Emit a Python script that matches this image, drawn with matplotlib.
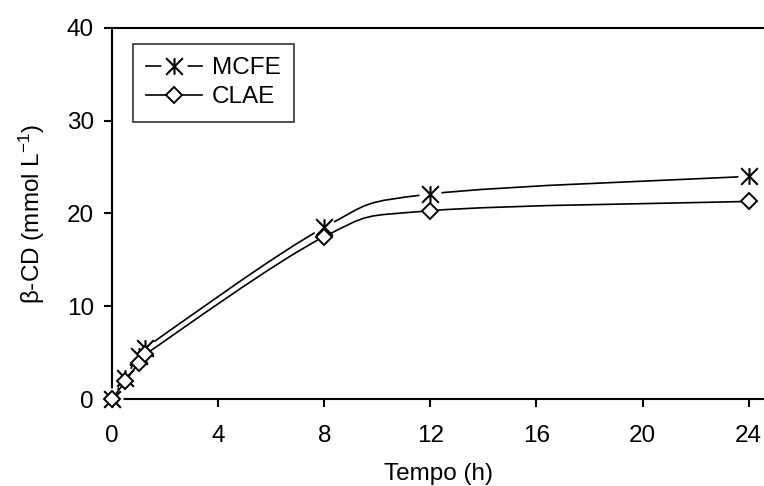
import numpy as np
import matplotlib
matplotlib.use("Agg")
import matplotlib.pyplot as plt
from matplotlib.path import Path
from matplotlib.patches import PathPatch
from matplotlib.lines import Line2D
from matplotlib.legend_handler import HandlerTuple

# ---- data ----
tempo = [0, 0.5, 1, 1.25, 8, 12, 24]
mcfe = [0, 2.3, 4.6, 5.5, 18.5, 22.1, 24.0]
clae = [0, 1.9, 3.9, 4.8, 17.5, 20.3, 21.3]
x_ticks = [0, 4, 8, 12, 16, 20, 24]
y_ticks = [0, 10, 20, 30, 40]
series_names = ["MCFE", "CLAE"]

plt.rcParams['font.family'] = ['Liberation Sans', 'DejaVu Sans']
plt.rcParams['mathtext.default'] = 'regular'
FS = 17.5

W, H = 764, 486
fig = plt.figure(figsize=(W / 100, H / 100), dpi=100)
left, right, top, bottom = 112, 764, 28, 399
ax = fig.add_axes([left / W, (H - bottom) / H, (right - left) / W, (bottom - top) / H])

xmax = (right - left) / ((748.6 - left) / 24)
ax.set_xlim(0, xmax)
ax.set_ylim(0, 40)


def excel_smooth(x, y):
    pts = np.column_stack([x, y]).astype(float)
    n = len(pts)
    verts = [pts[0]]
    codes = [Path.MOVETO]
    for i in range(n - 1):
        p0 = pts[i - 1] if i > 0 else pts[i]
        p1 = pts[i]
        p2 = pts[i + 1]
        p3 = pts[i + 2] if i + 2 < n else pts[i + 1]
        c1 = p1 + (p2 - p0) / 6.0
        c2 = p2 - (p3 - p1) / 6.0
        verts += [c1, c2, p2]
        codes += [Path.CURVE4] * 3
    return Path(verts, codes)


# asterisk marker: X plus vertical bar
star_path = Path(
    [(-1, -1), (1, 1), (-1, 1), (1, -1), (0, -1.0), (0, 1.0)],
    [Path.MOVETO, Path.LINETO, Path.MOVETO, Path.LINETO, Path.MOVETO, Path.LINETO],
)

LW = 1.2
MS = 12
# MCFE line
ax.add_patch(PathPatch(excel_smooth(tempo, mcfe), facecolor='none', edgecolor='black',
                       lw=LW, zorder=2, transform=ax.transData))
# white gaps around asterisks
ax.plot(tempo, mcfe, linestyle='none', marker='o', ms=16, mfc='white', mec='none',
        zorder=3, clip_on=False)
# CLAE line
ax.add_patch(PathPatch(excel_smooth(tempo, clae), facecolor='none', edgecolor='black',
                       lw=LW, zorder=4, transform=ax.transData))
ax.plot(tempo, mcfe, linestyle='none', marker=star_path, ms=MS, mec='black', mew=1.5,
        zorder=5, clip_on=False)
ax.plot(tempo, clae, linestyle='none', marker='D', ms=8.6, mfc='white', mec='black',
        mew=1.4, zorder=6, clip_on=False)

# axes styling
ax.spines['right'].set_visible(False)
for s in ['left', 'bottom', 'top']:
    ax.spines[s].set_linewidth(1.5)
ax.set_xticks(x_ticks)
ax.set_yticks(y_ticks)
ax.tick_params(axis='both', direction='out', length=6, width=1.5, labelsize=FS)
ax.tick_params(axis='x', pad=13)
ax.tick_params(axis='y', pad=7)
ax.set_xlabel("Tempo (h)", fontsize=FS, labelpad=11)
ax.set_ylabel(r"β-CD (mmol L$^{-1}$)", fontsize=FS, labelpad=14)

# legend
h_line = Line2D([], [], color='black', lw=LW)
h_gap = Line2D([], [], linestyle='none', marker='o', ms=19, mfc='white', mec='none')
h_star = Line2D([], [], linestyle='none', marker=star_path, ms=MS, mec='black', mew=1.5)
h_line2 = Line2D([], [], color='black', lw=LW)
h_diam = Line2D([], [], linestyle='none', marker='D', ms=8.6, mfc='white', mec='black', mew=1.4)
leg = ax.legend([(h_line, h_gap, h_star), (h_line2, h_diam)], series_names,
                handler_map={tuple: HandlerTuple(ndivide=1, pad=0)},
                loc='upper left', bbox_to_anchor=((133 - left) / (right - left), (bottom - 44) / (bottom - top)),
                borderaxespad=0, fontsize=FS, frameon=True, fancybox=False,
                edgecolor='black', handlelength=2.3, handletextpad=0.4,
                borderpad=0.55, labelspacing=0.28)
leg.get_frame().set_linewidth(1.2)

fig.savefig("out.png", dpi=100)
